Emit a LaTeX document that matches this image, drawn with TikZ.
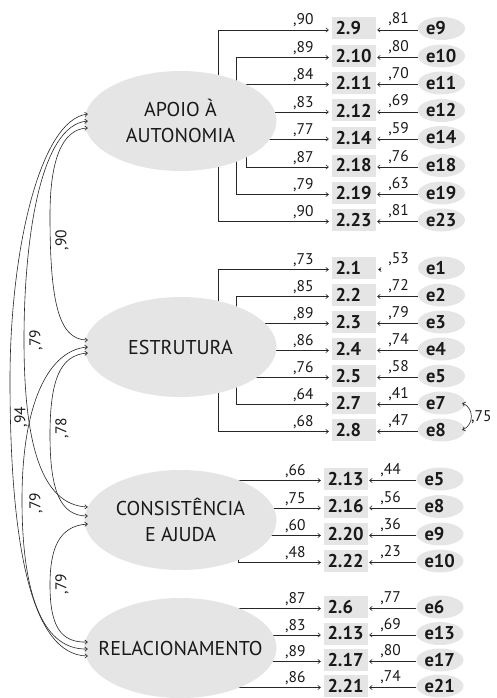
\documentclass[tikz,border=0pt]{standalone}
\usepackage{fontspec}
\setmainfont{PT Sans}
\usetikzlibrary{shapes.geometric,arrows.meta}
\tikzset{
  ink/.style={draw=black!85,line width=0.6pt},
  load/.style={ink,-{Straight Barb[length=2.6pt,width=4.4pt]},shorten >=3pt},
  res/.style={ink,-{Straight Barb[length=2.6pt,width=4.4pt]}},
  cor/.style={ink,{Straight Barb[length=2.6pt,width=4.4pt]}-{Straight Barb[length=2.6pt,width=4.4pt]}},
  lat/.style={ellipse,fill=black!10,minimum width=192pt,minimum height=100pt,inner sep=0pt},
  lattxt/.style={align=center,font=\fontsize{20}{25.5}\selectfont,text=black!90,inner sep=0pt},
  ind/.style={rectangle,fill=black!10,minimum height=22pt,text width=37pt,inner xsep=3.5pt,inner ysep=0pt,align=left,font=\bfseries\fontsize{18.5}{20}\selectfont,text=black!90},
  err/.style={ellipse,fill=black!10,minimum width=47pt,minimum height=23pt,inner sep=0pt},
  errtxt/.style={font=\bfseries\fontsize{18.5}{20}\selectfont,text=black!90,inner sep=0pt},
  num/.style={font=\fontsize{15.5}{18}\selectfont,text=black!90,inner sep=0pt}
}
\newcommand\semrow[7]{%
  \node[ind] (v#1) at (\bx,#2) {#3};
  \node[err] (e#1) at (\ex,#2) {};
  \node[errtxt,anchor=west] (t#1) at ([xshift=8pt]e#1.west) {#6};
  \coordinate (s#1) at (#7,{#2+1.5});
  \draw[load] (s#1) -- ([yshift=-1.5pt]v#1.west);
  \node[num,anchor=base east] (l#1) at ([xshift=-18pt,yshift=3.5pt]v#1.west) {#4};
  \node[num,anchor=base west] (r#1) at ([xshift=12pt,yshift=4.5pt]v#1.east) {#5};
}
\begin{document}
\begin{tikzpicture}[x=1pt,y=-1pt]
\useasboundingbox (0,0) rectangle (497,698);
% APOIO
\def\bx{354}\def\ex{441.5}
\semrow{A1}{28.5}{2.9}{,90}{,81}{e9}{218}
\semrow{A2}{56}{2.10}{,89}{,80}{e10}{236}
\semrow{A3}{83}{2.11}{,84}{,70}{e11}{246}
\semrow{A4}{110.5}{2.12}{,83}{,69}{e12}{246}
\semrow{A5}{137.5}{2.14}{,77}{,59}{e14}{246}
\semrow{A6}{165.5}{2.18}{,87}{,76}{e18}{246}
\semrow{A7}{193}{2.19}{,79}{,63}{e19}{236}
\semrow{A8}{220}{2.23}{,90}{,81}{e23}{218}
% ESTRUTURA
\semrow{S1}{268}{2.1}{,73}{,53}{e1}{218}
\semrow{S2}{295}{2.2}{,85}{,72}{e2}{236}
\semrow{S3}{322}{2.3}{,89}{,79}{e3}{236}
\semrow{S4}{349}{2.4}{,86}{,74}{e4}{236}
\semrow{S5}{376}{2.5}{,76}{,58}{e5}{236}
\semrow{S6}{403}{2.7}{,64}{,41}{e7}{236}
\semrow{S7}{430}{2.8}{,68}{,47}{e8}{218}
% CONSISTENCIA
\def\bx{346}\def\ex{440}
\semrow{C1}{479}{2.13}{,66}{,44}{e5}{238}
\semrow{C2}{506.5}{2.16}{,75}{,56}{e8}{238}
\semrow{C3}{534}{2.20}{,60}{,36}{e9}{238}
\semrow{C4}{561}{2.22}{,48}{,23}{e10}{238}
% RELACIONAMENTO
\semrow{R1}{607}{2.6}{,87}{,77}{e6}{238}
\semrow{R2}{633.5}{2.13}{,83}{,69}{e13}{238}
\semrow{R3}{660}{2.17}{,89}{,80}{e17}{238}
\semrow{R4}{686}{2.21}{,86}{,74}{e21}{238}
% residual arrows
\foreach \k in {A1,A2,A3,A4,A5,A6,A7,A8,S2,S3,S4,S5,S6,S7,C1,C2,C3,C4,R1,R2,R3,R4}
  \draw[res] ([yshift=-1.5pt]e\k.west) -- ([xshift=1pt,yshift=-1.5pt]v\k.east);
\draw[res] ([xshift=5pt,yshift=-1.5pt]vS1.east) -- ([xshift=2pt,yshift=-1.5pt]vS1.east);
% brackets
\draw[ink] (sA1) -- (sA8);
\draw[ink] (sA2) -- (sA7);
\draw[ink] (sA3) -- (sA6);
\draw[ink] (sS1) -- (sS7);
\draw[ink] (sS2) -- (sS6);
\draw[ink] (sC1) -- (sC4);
\draw[ink] (sR1) -- (sR4);
% latent variables
\node[lat] (ap) at (180.5,121) {};
\node[lattxt] (apt) at (ap) {APOIO À\\AUTONOMIA};
\node[lat] (es) at (180.5,347) {};
\node[lattxt] (est) at (es) {ESTRUTURA};
\node[lat] (co) at (180.5,520) {};
\node[lattxt] (cot) at (co) {CONSISTÊNCIA\\E AJUDA};
\node[lat] (re) at (180.5,648) {};
\node[lattxt] (ret) at (re) {RELACIONAMENTO};
% arrow ends on latents
\coordinate (apR) at ([xshift=3.5pt,yshift=7pt]ap.west);
\coordinate (apC) at ([xshift=3.5pt]ap.west);
\coordinate (apE) at ([xshift=3.5pt,yshift=-7pt]ap.west);
\coordinate (esA) at ([xshift=3.5pt,yshift=7pt]es.west);
\coordinate (esR) at ([xshift=3.5pt]es.west);
\coordinate (esC) at ([xshift=3.5pt,yshift=-6pt]es.west);
\coordinate (coA) at ([xshift=3.5pt,yshift=13pt]co.west);
\coordinate (coE) at ([xshift=3.5pt,yshift=4pt]co.west);
\coordinate (coR) at ([xshift=3.5pt,yshift=-4pt]co.west);
\coordinate (reC) at ([xshift=3.5pt,yshift=6pt]re.west);
\coordinate (reE) at ([xshift=3.5pt,yshift=-1pt]re.west);
\coordinate (reA) at ([xshift=3.5pt,yshift=-8pt]re.west);
% correlations
\draw[cor] (apE) .. controls (62,129) and (50,160) .. (50,215) .. controls (50,300) and (58,340) .. (esA);
\draw[cor] (apC) .. controls (40,125) and (24,240) .. (24,340) .. controls (24,440) and (40,505) .. (coA);
\draw[cor] (apR) .. controls (40,120) and (10,250) .. (10,380) .. controls (10,540) and (30,655) .. (reA);
\draw[cor] (esC) .. controls (60,355) and (50,380) .. (50,435) .. controls (50,490) and (60,516) .. (coE);
\draw[cor] (esR) .. controls (50,350) and (22,400) .. (22,500) .. controls (22,600) and (45,650) .. (reE);
\draw[cor] (coR) .. controls (58,526) and (50,550) .. (50,585) .. controls (50,625) and (60,643) .. (reC);
\node[num,rotate=90] (k1) at (62,240) {,90};
\node[num,rotate=90] (k2) at (36,340) {,79};
\node[num,rotate=90] (k3) at (21,417) {,94};
\node[num,rotate=90] (k4) at (62,428) {,78};
\node[num,rotate=90] (k5) at (36,503) {,79};
\node[num,rotate=90] (k6) at (62,584) {,79};
% covariance e7-e8
\draw[cor] ([xshift=-3pt]eS6.east) .. controls +(12,5) and +(12,-5) .. ([xshift=-3pt]eS7.east);
\node[num,anchor=west] (k7) at (471,417) {,75};
\end{tikzpicture}
\end{document}
